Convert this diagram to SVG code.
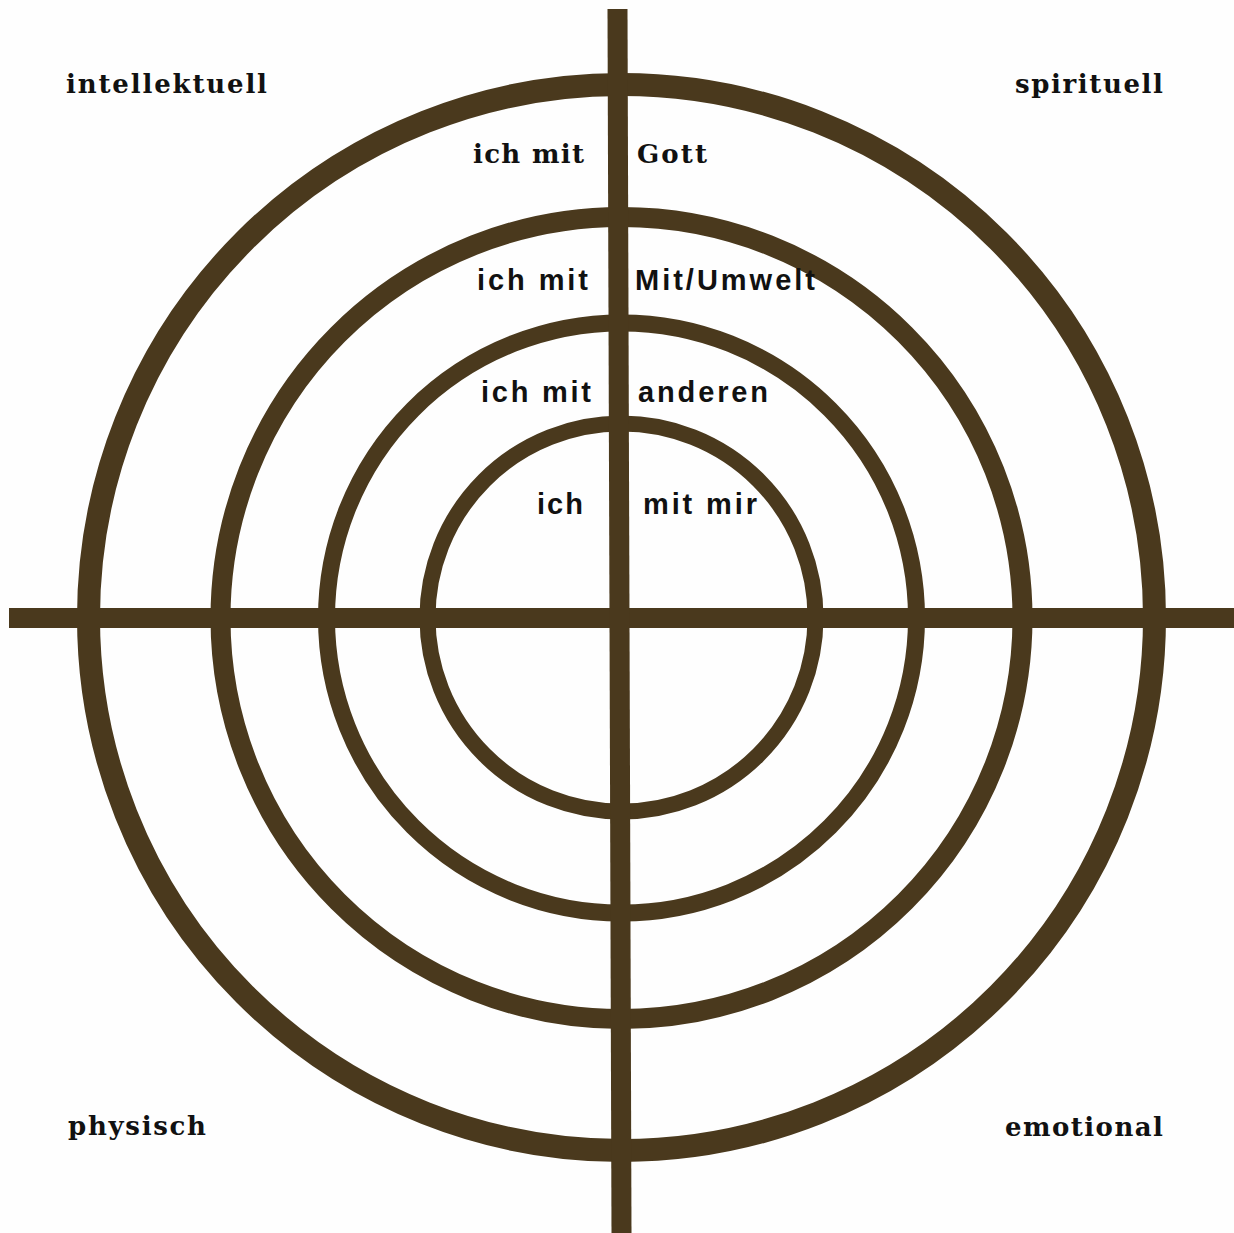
<svg xmlns="http://www.w3.org/2000/svg" width="1234" height="1233" viewBox="0 0 1234 1233">
<style>
.ring{fill:none;stroke:#4a391d}
.ax{stroke:#4a391d;stroke-width:20;fill:none}
.serif{font-family:"DejaVu Serif","Liberation Serif",serif;font-weight:bold;font-size:26px;fill:#111}
.sans{font-family:"Liberation Sans",Arial,sans-serif;font-weight:bold;font-size:29px;fill:#111}
</style>
<rect width="1234" height="1233" fill="#fefefe"/>
<g id="rings">
<circle id="ring-gott" class="ring" cx="621.5" cy="617.5" r="533" stroke-width="23"/>
<circle id="ring-umwelt" class="ring" cx="621.5" cy="618" r="401" stroke-width="20"/>
<circle id="ring-anderen" class="ring" cx="621.5" cy="618" r="295" stroke-width="17"/>
<circle id="ring-ich" class="ring" cx="621.5" cy="617.5" r="194" stroke-width="16"/>
</g>
<g id="connectors">
<line class="ax" x1="9" y1="618" x2="1234" y2="618"/>
<line class="ax" x1="617.5" y1="9" x2="621.5" y2="1233" stroke-width="21"/>
</g>
<g id="corner-labels">
<text id="t-intellektuell" class="serif" x="66" y="93" textLength="201" lengthAdjust="spacing">intellektuell</text>
<text id="t-spirituell" class="serif" x="1015" y="93" textLength="148" lengthAdjust="spacing">spirituell</text>
<text id="t-physisch" class="serif" x="68" y="1135" textLength="138" lengthAdjust="spacing">physisch</text>
<text id="t-emotional" class="serif" x="1005" y="1136" textLength="158" lengthAdjust="spacing">emotional</text>
</g>
<g id="ring-labels">
<text class="serif" x="473" y="163" textLength="111" lengthAdjust="spacing">ich mit</text>
<text class="serif" x="637" y="163" textLength="70" lengthAdjust="spacing">Gott</text>
<text class="sans" x="477" y="290" textLength="111" lengthAdjust="spacing">ich mit</text>
<text class="sans" x="635" y="290" textLength="180" lengthAdjust="spacing">Mit/Umwelt</text>
<text class="sans" x="481" y="402" textLength="110" lengthAdjust="spacing">ich mit</text>
<text class="sans" x="638" y="402" textLength="130" lengthAdjust="spacing">anderen</text>
<text class="sans" x="537" y="514" textLength="46" lengthAdjust="spacing">ich</text>
<text class="sans" x="643" y="514" textLength="114" lengthAdjust="spacing">mit mir</text>
</g>
</svg>
